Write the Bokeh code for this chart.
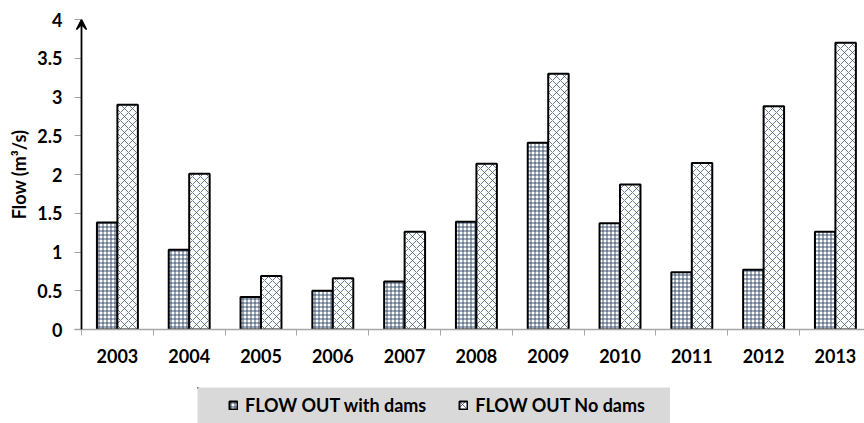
import numpy as np
from bokeh.plotting import figure
from bokeh.layouts import column, row
from bokeh.models import (Range1d, FixedTicker, Legend, LegendItem, Arrow, VeeHead, Spacer)
from bokeh.embed import file_html
from bokeh.resources import INLINE

years = ["2003", "2004", "2005", "2006", "2007", "2008", "2009", "2010", "2011", "2012", "2013"]
with_dams = [1.38, 1.03, 0.42, 0.50, 0.62, 1.39, 2.41, 1.37, 0.74, 0.77, 1.26]
no_dams = [2.90, 2.01, 0.69, 0.66, 1.26, 2.14, 3.30, 1.87, 2.15, 2.88, 3.70]
y_ticks = [0, 0.5, 1, 1.5, 2, 2.5, 3, 3.5, 4]
y_labels = ["0", "0.5", "1", "1.5", "2", "2.5", "3", "3.5", "4"]
series_labels = ["FLOW OUT with dams", "FLOW OUT No dams"]

FONT = "Lato"
NAVY = "#2a4468"
bw = 0.285

style_with = dict(fill_color="white", line_color="black", line_width=2,
                  hatch_pattern="cross", hatch_color=NAVY, hatch_scale=4, hatch_weight=0.9)
style_no = dict(fill_color="white", line_color="black", line_width=2,
                hatch_pattern="diagonal_cross", hatch_color=NAVY, hatch_scale=8, hatch_weight=0.7)

n = len(years)
centers = np.arange(n) + 0.5
bounds = list(np.arange(n + 1).astype(float))

p = figure(width=864, height=387, output_backend="svg", toolbar_location=None,
           x_range=Range1d(-0.0975, 10.905), y_range=Range1d(0, 4),
           min_border_left=74, min_border_right=0, min_border_top=19,
           min_border_bottom=58)
p.outline_line_color = None
p.xgrid.visible = False
p.ygrid.visible = False

p.vbar(x=centers - bw / 2, top=with_dams, width=bw, bottom=0, **style_with)
p.vbar(x=centers + bw / 2, top=no_dams, width=bw, bottom=0, **style_no)

# x axis
xa = p.xaxis[0]
xa.ticker = FixedTicker(ticks=list(centers), minor_ticks=bounds)
xa.major_label_overrides = {float(c): y for c, y in zip(centers, years)}
xa.major_tick_line_color = None
xa.major_tick_out = 0
xa.major_tick_in = 0
xa.minor_tick_line_color = "#a6a6a6"
xa.minor_tick_out = 6
xa.minor_tick_in = 0
xa.axis_line_color = "#a6a6a6"
xa.axis_line_width = 1.5
xa.major_label_text_font = FONT
xa.major_label_text_font_style = "bold"
xa.major_label_text_font_size = "18px"
xa.major_label_text_color = "black"
xa.major_label_standoff = 13

# y axis
ya = p.yaxis[0]
ya.ticker = FixedTicker(ticks=y_ticks)
ya.major_label_overrides = {float(t): l for t, l in zip(y_ticks, y_labels)}
ya.minor_tick_line_color = None
ya.axis_line_color = None
ya.major_tick_in = 7
ya.major_tick_out = 0
ya.major_tick_line_color = "#a6a6a6"
ya.major_label_standoff = 12
ya.major_label_text_font = FONT
ya.major_label_text_font_style = "bold"
ya.major_label_text_font_size = "18px"
ya.major_label_text_color = "black"
ya.axis_label = "Flow (m\u00b3/s)"
ya.axis_label_text_font = FONT
ya.axis_label_text_font_style = "bold"
ya.axis_label_text_font_size = "18px"
ya.axis_label_text_color = "black"
ya.axis_label_standoff = 4

# y axis line with arrow
p.add_layout(Arrow(end=VeeHead(size=10, line_color="black", fill_color="black", line_width=1.5),
                   x_start=0, y_start=0, x_end=0, y_end=4,
                   line_color="black", line_width=1.8))

# legend strip (grey box); zero-size proxy glyphs carry the legend styles
lg = figure(width=473, height=36, output_backend="svg", toolbar_location=None,
            x_axis_type=None, y_axis_type=None, min_border=0,
            x_range=Range1d(0, 1), y_range=Range1d(0, 1))
lg.outline_line_color = None
lg.background_fill_color = "#d9d9d9"
lg.border_fill_color = "#d9d9d9"
lg.xgrid.visible = False
lg.ygrid.visible = False
k1 = lg.vbar(x=[-5], bottom=[5], top=[5], width=0, **style_with)
k2 = lg.vbar(x=[-5], bottom=[5], top=[5], width=0, **style_no)

legend = Legend(items=[LegendItem(label=series_labels[0], renderers=[k1], index=0),
                       LegendItem(label=series_labels[1], renderers=[k2], index=0)],
                orientation="horizontal", location=(31, 7),
                background_fill_alpha=0, border_line_color=None,
                label_text_font=FONT, label_text_font_style="bold",
                label_text_font_size="18px", label_text_color="black",
                glyph_width=10, glyph_height=10, label_standoff=7,
                spacing=32, padding=0, margin=0)
lg.add_layout(legend)

layout = column(p, row(Spacer(width=197, height=36), lg, spacing=0), spacing=0)

open("out.html", "w").write(file_html(layout, INLINE))
